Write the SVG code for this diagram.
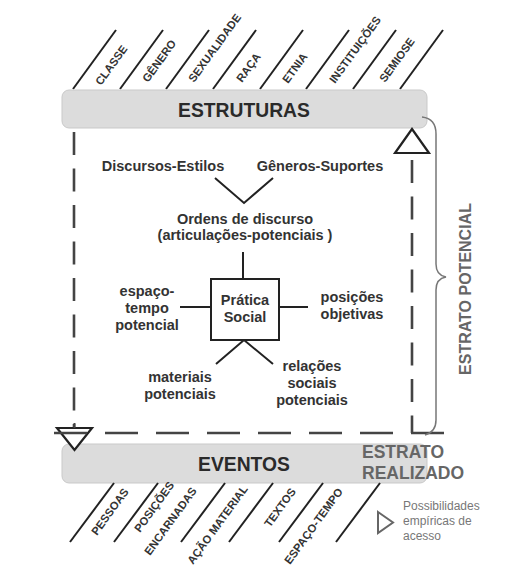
<svg xmlns="http://www.w3.org/2000/svg" width="520" height="574" viewBox="0 0 520 574">
<style>
.t{font-family:"Liberation Sans",Arial,sans-serif;font-weight:bold;fill:#333;}
.m{font-size:14.5px;text-anchor:middle;}
.s{font-size:11.3px;}
.big{font-size:19.3px;text-anchor:middle;fill:#2a2a2a;}
.gr{fill:#666;}
.ln{stroke:#222;stroke-width:2;fill:none;}
.dash{stroke:#444;stroke-width:2.6;fill:none;}
.bar{fill:#dcdcdc;stroke:#c9c9c9;stroke-width:1;}
</style>
<rect width="520" height="574" fill="#fff"/>
<g id="top-lines" class="ln">
<line x1="73" y1="89" x2="116" y2="30"/>
<line x1="120" y1="89" x2="163" y2="30"/>
<line x1="166" y1="89" x2="209" y2="30"/>
<line x1="213" y1="89" x2="256" y2="30"/>
<line x1="260" y1="89" x2="303" y2="30"/>
<line x1="306" y1="89" x2="349" y2="30"/>
<line x1="353" y1="89" x2="396" y2="30"/>
<line x1="400" y1="89" x2="443" y2="30"/>
</g>
<g id="top-labels" class="t s">
<text transform="translate(101,86) rotate(-54)">CLASSE</text>
<text transform="translate(148,83) rotate(-54)">GÊNERO</text>
<text transform="translate(194,83) rotate(-54)">SEXUALIDADE</text>
<text transform="translate(242,83) rotate(-54)">RAÇA</text>
<text transform="translate(288,84) rotate(-54)">ETNIA</text>
<text transform="translate(335,84) rotate(-54)">INSTITUIÇÕES</text>
<text transform="translate(385,83) rotate(-54)">SEMIOSE</text>
</g>
<g id="estruturas">
<rect class="bar" x="62" y="90" width="365" height="38" rx="7"/>
<text class="t big" x="244" y="117">ESTRUTURAS</text>
</g>
<g id="eventos">
<rect class="bar" x="62" y="444" width="365" height="39" rx="7"/>
<text class="t big" x="244" y="471">EVENTOS</text>
</g>
<g id="bottom-lines" class="ln">
<line x1="114" y1="483" x2="70" y2="542"/>
<line x1="158" y1="483" x2="114" y2="542"/>
<line x1="225" y1="483" x2="181" y2="542"/>
<line x1="273" y1="483" x2="229" y2="542"/>
<line x1="323" y1="483" x2="279" y2="542"/>
<line x1="380" y1="483" x2="336" y2="542"/>
</g>
<g id="bottom-labels" class="t s">
<text transform="translate(97,536) rotate(-54)">PESSOAS</text>
<text transform="translate(140,533) rotate(-54)">POSIÇÕES</text>
<text transform="translate(150,556) rotate(-54)">ENCARNADAS</text>
<text transform="translate(193,565) rotate(-54)">AÇÃO MATERIAL</text>
<text transform="translate(270,528) rotate(-54)">TEXTOS</text>
<text transform="translate(290,565) rotate(-54)">ESPAÇO-TEMPO</text>
</g>
<g id="connectors">
<line class="dash" x1="74" y1="132" x2="74" y2="428" stroke-dasharray="23 13.5"/>
<line class="dash" x1="412" y1="160" x2="412" y2="433" stroke-dasharray="23 13.5"/>
<polyline class="ln" points="215,178 244,203 273,178"/>
<line class="ln" x1="243" y1="252" x2="243" y2="279"/>
<line class="ln" x1="180" y1="307" x2="211" y2="307"/>
<line class="ln" x1="279" y1="307" x2="308" y2="307"/>
<polyline class="ln" points="216,364 244,340 273,364"/>
</g>
<g id="triangle-top">
<polygon points="412,129 429,153 395,153" fill="#fff" stroke="#222" stroke-width="2.2"/>
</g>
<g id="triangle-bottom">
<polygon points="57,428 92,428 74.5,450" fill="#fff" stroke="#222" stroke-width="2.2"/>
<line x1="74.5" y1="423" x2="74.5" y2="428" stroke="#444" stroke-width="2"/>
</g>
<line class="dash" x1="54" y1="433" x2="444" y2="433" stroke-dasharray="33 18"/>
<g id="discursos-estilos"><text class="t m" x="163" y="171">Discursos-Estilos</text></g>
<g id="generos-suportes"><text class="t m" x="320" y="171">Gêneros-Suportes</text></g>
<g id="ordens"><text class="t m" x="245" y="224">Ordens de discurso</text><text class="t m" x="245" y="240">(articulações-potenciais )</text></g>
<g id="pratica-social">
<rect x="211" y="279" width="68" height="61" fill="#fff" stroke="#222" stroke-width="2"/>
<text class="t m" x="245" y="305">Prática</text>
<text class="t m" x="245" y="322">Social</text>
</g>
<g id="espaco-tempo"><text class="t m" x="147" y="296">espaço-</text><text class="t m" x="147" y="313">tempo</text><text class="t m" x="147" y="330">potencial</text></g>
<g id="posicoes"><text class="t m" x="352" y="302">posições</text><text class="t m" x="352" y="319">objetivas</text></g>
<g id="materiais"><text class="t m" x="180" y="382">materiais</text><text class="t m" x="180" y="399">potenciais</text></g>
<g id="relacoes"><text class="t m" x="312" y="371">relações</text><text class="t m" x="312" y="388">sociais</text><text class="t m" x="312" y="405">potenciais</text></g>
<g id="estrato-potencial">
<path d="M422,117 C431,118 436,123 436,134 L436,264 C436,272 440,276 446,277 C440,278 436,282 436,290 L436,420 C436,429 432,433 425,435" fill="none" stroke="#777" stroke-width="1.5"/>
<text class="t gr" font-size="16" text-anchor="middle" transform="translate(471,289) rotate(-90)">ESTRATO POTENCIAL</text>
</g>
<g id="estrato-realizado">
<text class="t gr" font-size="17.5" x="362" y="458">ESTRATO</text>
<text class="t gr" font-size="17.5" x="362" y="479">REALIZADO</text>
</g>
<g id="legend">
<polygon points="378,512 393,522.5 378,533" fill="none" stroke="#666" stroke-width="2"/>
<text font-family="Liberation Sans,Arial,sans-serif" font-size="12" fill="#777" x="403" y="510">Possibilidades</text>
<text font-family="Liberation Sans,Arial,sans-serif" font-size="12" fill="#777" x="403" y="525">empíricas de</text>
<text font-family="Liberation Sans,Arial,sans-serif" font-size="12" fill="#777" x="403" y="540">acesso</text>
</g>
</svg>
